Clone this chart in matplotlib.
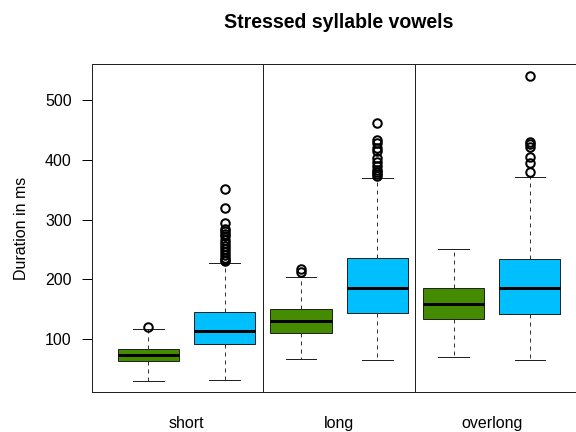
import numpy as np
import matplotlib
matplotlib.use("Agg")
import matplotlib.pyplot as plt

plt.rcParams['font.family'] = ['Liberation Sans', 'DejaVu Sans']

# vowel length groups, each with two boxes (green, blue)
groups = ['short', 'long', 'overlong']
box_colors = ['#458B00', '#00BFFF', '#458B00', '#00BFFF', '#458B00', '#00BFFF']

# five-number summaries (ms)
whislo = [30, 32, 66, 64, 70, 64]
q1 = [63, 92, 110, 144, 133, 141]
med = [73, 114, 130, 185, 158, 185]
q3 = [84, 146, 150, 235, 185, 234]
whishi = [116, 228, 204, 370, 251, 372]
fliers = [
    [120],
    [351, 319, 294, 285, 280, 276, 272, 266, 260, 255, 250, 245, 240, 236, 233, 230],
    [218, 213],
    [461, 433, 428, 420, 414, 403, 396, 389, 383, 379, 376, 373],
    [],
    [540, 430, 427, 421, 405, 394, 380],
]

stats = []
for i in range(len(med)):
    stats.append(dict(whislo=whislo[i], q1=q1[i], med=med[i], q3=q3[i],
                      whishi=whishi[i], fliers=fliers[i]))

fig = plt.figure(figsize=(8, 6), dpi=72)
ax = fig.add_axes([91.7 / 576, 1 - 392.3 / 432, (575 - 91.7) / 576, (392.3 - 64.3) / 432])

positions = np.arange(1, len(med) + 1)
bp = ax.bxp(stats, positions=positions, widths=0.8, patch_artist=True,
            boxprops=dict(edgecolor='#222222', linewidth=1.0),
            medianprops=dict(color='black', linewidth=3),
            whiskerprops=dict(color='#333333', linestyle=(0, (4, 4)), linewidth=1.0),
            capprops=dict(color='#222222', linewidth=1.0), capwidths=0.4,
            flierprops=dict(marker='o', markerfacecolor='none', markeredgecolor='black',
                            markersize=8.5, markeredgewidth=2))
for patch, c in zip(bp['boxes'], box_colors):
    patch.set_facecolor(c)

# separators between groups
for x in positions[1:-1:2] + 0.5:
    ax.axvline(x, color='#222222', linewidth=1.0)

ax.set_xlim(0.258, 6.59)
ax.set_ylim(10.7, 560)
ax.set_yticks([100, 200, 300, 400, 500])
ax.tick_params(axis='y', direction='out', length=10, width=1, labelsize=16, pad=10)
ax.set_xticks(positions[::2] + 0.5)
ax.set_xticklabels(groups, fontsize=16)
ax.tick_params(axis='x', length=0, pad=24)
ax.spines['right'].set_visible(False)
for s in ['left', 'top', 'bottom']:
    ax.spines[s].set_color('#222222')
    ax.spines[s].set_linewidth(1.0)

ax.set_ylabel('Duration in ms', fontsize=16, labelpad=16)
fig.text(339 / 576, 1 - 23 / 432, 'Stressed syllable vowels', ha='center', va='center',
         fontsize=19.5, fontweight='bold')

fig.savefig('out.png', dpi=72)
